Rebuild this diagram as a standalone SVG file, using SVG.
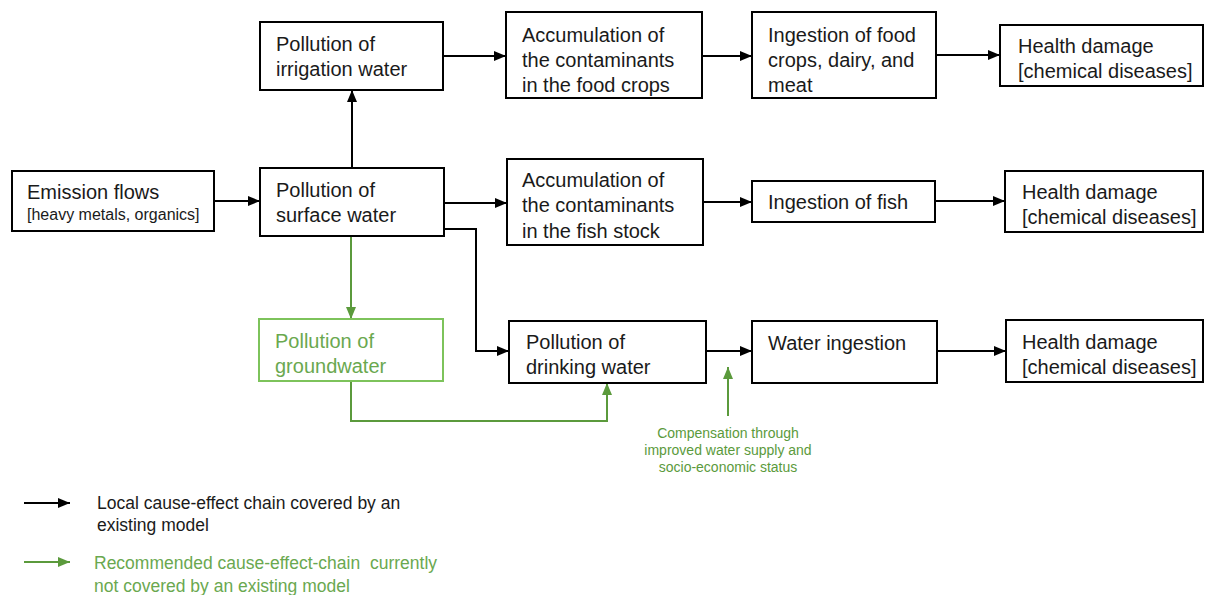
<svg xmlns="http://www.w3.org/2000/svg" width="1205" height="595" viewBox="0 0 1205 595">
<defs>
<marker id="ab" viewBox="0 0 12 10" refX="12" refY="5" markerWidth="12" markerHeight="10" markerUnits="userSpaceOnUse" orient="auto"><path d="M0,0 L12,5 L0,10 Z" fill="#000"/></marker>
<marker id="ag" viewBox="0 0 12 10" refX="12" refY="5" markerWidth="12" markerHeight="10" markerUnits="userSpaceOnUse" orient="auto"><path d="M0,0 L12,5 L0,10 Z" fill="#5b9a3c"/></marker>
</defs>
<style>
.box{fill:#fff;stroke:#000;stroke-width:2}
.gbox{fill:#fff;stroke:#7dc35b;stroke-width:2}
text{font-family:"Liberation Sans",Arial,sans-serif;font-size:20px;fill:#1a1a1a}
.sm{font-size:16px}
.g{fill:#6aa84f}
.cm{font-size:14px;fill:#5b9a3c;text-anchor:middle}
.lg{font-size:17.5px;white-space:pre}
.c{fill:none;stroke:#000;stroke-width:2}
.cg{fill:none;stroke:#5b9a3c;stroke-width:2}
</style>
<rect width="1205" height="595" fill="#fff"/>
<g id="connectors">
<path class="c" d="M214,201 H260" marker-end="url(#ab)"/>
<path class="c" d="M352,168 V90" marker-end="url(#ab)"/>
<path class="c" d="M443,56 H506" marker-end="url(#ab)"/>
<path class="c" d="M702,56 H752" marker-end="url(#ab)"/>
<path class="c" d="M936,55 H1000" marker-end="url(#ab)"/>
<path class="c" d="M444,203 H507" marker-end="url(#ab)"/>
<path class="c" d="M703,202 H752" marker-end="url(#ab)"/>
<path class="c" d="M935,201 H1005" marker-end="url(#ab)"/>
<path class="c" d="M444,229 H476 V351 H509" marker-end="url(#ab)"/>
<path class="c" d="M706,351 H752" marker-end="url(#ab)"/>
<path class="c" d="M937,351 H1006" marker-end="url(#ab)"/>
<path class="cg" d="M351,236 V319" marker-end="url(#ag)"/>
<path class="cg" d="M351,381 V421 H607 V383" marker-end="url(#ag)"/>
<path class="cg" d="M728,416 V367" marker-end="url(#ag)"/>
</g>
<g id="emission"><rect class="box" x="12" y="171" width="202" height="60"/><text x="27" y="199">Emission flows</text><text class="sm" x="27" y="220">[heavy metals, organics]</text></g>
<g id="irrigation"><rect class="box" x="260" y="22" width="183" height="68"/><text x="276" y="51">Pollution of</text><text x="276" y="76">irrigation water</text></g>
<g id="surface"><rect class="box" x="260" y="168" width="184" height="68"/><text x="276" y="197">Pollution of</text><text x="276" y="222">surface water</text></g>
<g id="acc-food"><rect class="box" x="506" y="12" width="196" height="86"/><text x="522" y="42">Accumulation of</text><text x="522" y="67">the contaminants</text><text x="522" y="92">in the food crops</text></g>
<g id="ing-food"><rect class="box" x="752" y="12" width="184" height="86"/><text x="768" y="42">Ingestion of food</text><text x="768" y="67">crops, dairy, and</text><text x="768" y="92">meat</text></g>
<g id="health1"><rect class="box" x="1000" y="25" width="203" height="61"/><text x="1018" y="53">Health damage</text><text x="1018" y="78">[chemical diseases]</text></g>
<g id="acc-fish"><rect class="box" x="507" y="159" width="196" height="86"/><text x="522" y="187">Accumulation of</text><text x="522" y="212">the contaminants</text><text x="522" y="238">in the fish stock</text></g>
<g id="ing-fish"><rect class="box" x="752" y="181" width="183" height="41"/><text x="768" y="209">Ingestion of fish</text></g>
<g id="health2"><rect class="box" x="1005" y="171" width="198" height="61"/><text x="1022" y="199">Health damage</text><text x="1022" y="224">[chemical diseases]</text></g>
<g id="groundwater"><rect class="gbox" x="259" y="319" width="184" height="62"/><text class="g" x="275" y="348">Pollution of</text><text class="g" x="275" y="373">groundwater</text></g>
<g id="drinking"><rect class="box" x="509" y="321" width="197" height="62"/><text x="526" y="349">Pollution of</text><text x="526" y="374">drinking water</text></g>
<g id="water-ing"><rect class="box" x="752" y="321" width="185" height="62"/><text x="768" y="350">Water ingestion</text></g>
<g id="health3"><rect class="box" x="1006" y="320" width="197" height="62"/><text x="1022" y="349">Health damage</text><text x="1022" y="374">[chemical diseases]</text></g>
<g id="compensation"><text class="cm" x="728" y="438">Compensation through</text><text class="cm" x="728" y="455">improved water supply and</text><text class="cm" x="728" y="472">socio-economic status</text></g>
<g id="legend">
<path class="c" d="M24,503 H70" marker-end="url(#ab)"/>
<text class="lg" x="97" y="509">Local cause-effect chain covered by an</text>
<text class="lg" x="97" y="531">existing model</text>
<path class="cg" d="M24,562 H70" marker-end="url(#ag)"/>
<text class="lg g" x="94" y="569">Recommended cause-effect-chain  currently</text>
<text class="lg g" x="94" y="592">not covered by an existing model</text>
</g>
</svg>
